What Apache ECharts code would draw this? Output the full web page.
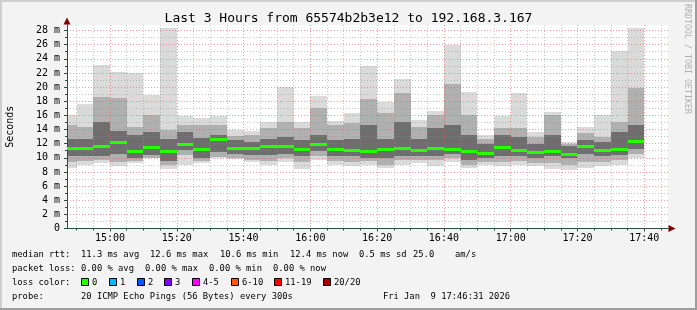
<!DOCTYPE html>
<html><head><meta charset="utf-8">
<script src="https://cdn.jsdelivr.net/npm/echarts@6/dist/echarts.min.js"></script>
<style>html,body{margin:0;padding:0;background:#f3f3f3}#c{width:697px;height:310px}</style>
</head><body><div id="c"></div>
<script>
// ---- data ----
const axisStart = "14:47:07";
const spanMinutes = 180;
const binEnd = ["14:50","14:55","15:00","15:05","15:10","15:15","15:20","15:25","15:30","15:35","15:40","15:45","15:50","15:55","16:00","16:05","16:10","16:15","16:20","16:25","16:30","16:35","16:40","16:45","16:50","16:55","17:00","17:05","17:10","17:15","17:20","17:25","17:30","17:35","17:40"];
const rttMax    = [16.1,17.6,23.1,22.1,22.0,18.9,28.3,15.9,15.6,15.9,13.9,13.8,15.1,20.0,15.0,18.8,15.2,16.3,23.0,17.9,21.1,15.3,16.6,25.9,19.3,13.2,15.9,19.1,13.6,16.5,12.3,14.3,16.0,25.1,28.3];
const rttHi2    = [14.6,14.4,18.6,18.4,14.4,16.0,13.9,14.6,14.6,14.6,13.1,13.2,14.2,15.1,14.2,17.0,14.6,14.9,18.3,16.3,19.1,14.3,16.0,20.4,16.0,12.7,14.2,14.2,13.0,16.0,12.0,13.5,13.0,15.1,19.9];
const rttHi3    = [12.6,12.7,15.0,13.8,13.2,13.7,12.7,13.7,12.8,13.2,12.5,12.3,12.7,13.0,12.5,13.2,12.5,12.7,14.6,12.7,15.1,12.7,14.2,14.6,13.2,12.0,13.2,13.0,11.9,13.2,11.6,12.5,12.3,13.7,14.6];
const rttMedian = [11.4,11.4,11.6,12.3,11.0,11.5,10.9,12.0,11.2,12.6,11.4,11.4,11.7,11.7,11.2,12.0,11.2,11.1,11.0,11.2,11.4,11.1,11.4,11.2,10.9,10.7,11.5,11.1,10.8,11.0,10.6,11.6,11.1,11.3,12.4];
const rttLo3    = [10.3,10.3,10.2,10.6,10.0,10.4,9.5,11.1,10.0,10.8,10.6,10.4,10.4,10.6,10.3,10.9,10.2,10.2,10.0,10.0,10.3,10.2,10.2,10.5,9.7,9.9,10.2,10.2,9.9,10.3,9.9,10.6,10.2,10.4,11.3];
const rttLo2    = [9.4,9.5,9.7,9.4,9.5,10.0,9.0,10.4,9.5,10.1,9.9,9.7,9.5,10.0,9.4,10.2,9.5,9.4,9.5,9.0,9.7,9.7,9.7,10.0,9.0,9.4,9.4,9.5,9.2,9.2,9.0,9.4,9.4,9.7,10.6];
const rttMin    = [8.5,9.0,9.3,8.9,9.3,9.9,8.4,9.0,9.2,9.9,9.8,9.4,9.0,9.4,8.4,9.7,9.0,8.9,9.0,8.5,9.0,9.2,8.9,9.4,8.6,9.0,8.9,9.0,8.8,8.4,8.3,8.5,8.9,9.0,10.0];
const stepMinutes = 5;
const xTicks = ["15:00","15:20","15:40","16:00","16:20","16:40","17:00","17:20","17:40"];
const xMinorTicks = ["14:50","14:55","15:05","15:10","15:15","15:25","15:30","15:35","15:45","15:50","15:55","16:05","16:10","16:15","16:25","16:30","16:35","16:45","16:50","16:55","17:05","17:10","17:15","17:25","17:30","17:35","17:45"];
const yTicks = [0,2,4,6,8,10,12,14,16,18,20,22,24,26,28];
const yMinorTicks = [1,3,5,7,9,11,13,15,17,19,21,23,25,27];
const yTop = 28.78;

const titleText = "Last 3 Hours from 65574b2b3e12 to 192.168.3.167";
const legendRows = [
  [["median rtt:",12],["11.3 ms avg",81],["12.6 ms max",150],["10.6 ms min",220],["12.4 ms now",290],["0.5 ms sd",359],["25.0",413],["am/s",455]],
  [["packet loss:",12],["0.00 % avg",81],["0.00 % max",145],["0.00 % min",209],["0.00 % now",273]],
  [["loss color:",12]],
  [["probe:",12],["20 ICMP Echo Pings (56 Bytes) every 300s",81]]
];
const lossLabels = ["0","1","2","3","4-5","6-10","11-19","20/20"];
const lossColors = ["#26ff00","#00b8ff","#0059ff","#7e00ff","#ff00ff","#ff5a00","#ff0000","#a00000"];
const lossBoxX = [81,109,137,164,192,231,274,323];
const dateText = "Fri Jan  9 17:46:31 2026";

// ---- helpers ----
function toMin(s){ const p=s.split(':').map(Number); return p[0]*60+p[1]+(p[2]||0)/60; }
function fmtHM(v){ const h=Math.floor(v/60+1e-6), m=Math.round(v-h*60); return (h<10?'0':'')+h+':'+(m<10?'0':'')+m; }
const X0 = toMin(axisStart), X1 = X0 + spanMinutes;
const smokeData = binEnd.map((e,i)=>[toMin(e)-stepMinutes, toMin(e), rttMin[i], rttLo2[i], rttLo3[i], rttMedian[i], rttHi3[i], rttHi2[i], rttMax[i]]);
const FONT = 'DejaVu Sans Mono';

function clipR(params, x0, y0, x1, y1){
  const cs = params.coordSys;
  return echarts.graphic.clipRectByRect({x:x0, y:y0, width:x1-x0, height:y1-y0},{x:cs.x, y:cs.y, width:cs.width, height:cs.height});
}
function renderSmoke(params, api){
  const t0=api.value(0), t1=api.value(1);
  const bands=[[2,8,'#dadada'],[3,7,'#b0b0b0'],[4,6,'#6e6e6e']];
  const children=[];
  bands.forEach(b=>{
    const a=api.coord([t0, api.value(b[1])]), c=api.coord([t1, api.value(b[0])]);
    const r=clipR(params, Math.round(a[0]), Math.round(a[1]), Math.round(c[0]), Math.round(c[1]));
    if(r) children.push({type:'rect', shape:r, style:{fill:b[2]}});
  });
  return {type:'group', children};
}
function renderMedian(params, api){
  const t0=api.value(0), t1=api.value(1), m=api.value(5);
  const a=api.coord([t0,m]), c=api.coord([t1,m]);
  const y=Math.round(a[1]);
  const r=clipR(params, Math.round(a[0]), y-1, Math.round(c[0]), y+2);
  return r ? {type:'rect', shape:r, style:{fill:'#26ff00'}} : null;
}

const graphics = [];
graphics.push({type:'rect', shape:{x:0,y:0,width:697,height:2}, style:{fill:'#cfcfcf'}, z:100});
graphics.push({type:'rect', shape:{x:0,y:0,width:2,height:310}, style:{fill:'#cfcfcf'}, z:100});
graphics.push({type:'rect', shape:{x:0,y:308,width:697,height:2}, style:{fill:'#9e9e9e'}, z:100});
graphics.push({type:'rect', shape:{x:695,y:0,width:2,height:310}, style:{fill:'#9e9e9e'}, z:100});
graphics.push({type:'text', x:348.5, y:19, z:100, style:{text:titleText, fontFamily:FONT, fontSize:13, fill:'#000', align:'center', textAlign:'center', verticalAlign:'middle', textVerticalAlign:'middle'}});
graphics.push({type:'text', x:687, y:4, rotation:-Math.PI/2, z:100, style:{text:'RRDTOOL / TOBI OETIKER', fontFamily:FONT, fontSize:8.3, fill:'#b0b0b0', align:'left', textAlign:'left', verticalAlign:'middle', textVerticalAlign:'middle'}});
const rowY = [254.5, 268.5, 282.5, 296.5];
legendRows.forEach((row,ri)=>row.forEach(([t,x])=>{
  graphics.push({type:'text', x:x, y:rowY[ri], z:100, style:{text:t, fontFamily:FONT, fontSize:8.8, fill:'#000', align:'left', textAlign:'left', verticalAlign:'middle', textVerticalAlign:'middle'}});
}));
lossLabels.forEach((l,i)=>{
  graphics.push({type:'rect', shape:{x:lossBoxX[i]+0.5,y:278.5,width:7,height:7}, z:100, style:{fill:lossColors[i], stroke:'#000', lineWidth:1}});
  graphics.push({type:'text', x:lossBoxX[i]+11, y:rowY[2], z:100, style:{text:l, fontFamily:FONT, fontSize:8.8, fill:'#000', align:'left', textAlign:'left', verticalAlign:'middle', textVerticalAlign:'middle'}});
});
graphics.push({type:'text', x:510, y:rowY[3], z:100, style:{text:dateText, fontFamily:FONT, fontSize:8.8, fill:'#000', align:'right', textAlign:'right', verticalAlign:'middle', textVerticalAlign:'middle'}});

const redGrid = {color:'rgba(224,80,80,0.55)', width:1, type:[1,2]};
const grayGrid = {color:'rgba(143,143,143,0.5)', width:1, type:[1,2]};
const axisCol = '#2c4d43', arrowCol = '#7f0000';

const chart = echarts.init(document.getElementById('c'), null, {renderer:'canvas'});
chart.setOption({
  backgroundColor:'#f3f3f3',
  animation:false,
  grid:{left:67, top:25, width:601, height:203.5, show:true, backgroundColor:'#ffffff', borderWidth:0, containLabel:false, outerBoundsMode:'none'},
  xAxis:[
    {type:'value', min:X0, max:X1, position:'bottom', z:3,
     axisLine:{show:true, onZero:false, lineStyle:{color:axisCol, width:1}},
     axisTick:{show:true, customValues:xTicks.map(toMin), length:3, lineStyle:{color:axisCol}},
     axisLabel:{show:true, customValues:xTicks.map(toMin), formatter:fmtHM, fontFamily:FONT, fontSize:10, color:'#000', margin:5},
     splitLine:{show:true, lineStyle:redGrid}, minorTick:{show:false}, minorSplitLine:{show:false}},
    {type:'value', min:X0, max:X1, position:'bottom', z:2,
     axisLine:{show:true, onZero:false, symbol:['none','triangle'], symbolSize:[7,7], symbolOffset:[0,4], lineStyle:{color:arrowCol, width:1}},
     axisTick:{show:true, customValues:xMinorTicks.map(toMin), length:2, lineStyle:{color:axisCol}},
     axisLabel:{show:false},
     splitLine:{show:true, lineStyle:grayGrid}}
  ],
  yAxis:[
    {type:'value', min:0, max:yTop, position:'left', z:3,
     axisLine:{show:true, onZero:false, lineStyle:{color:axisCol, width:1}},
     axisTick:{show:true, customValues:yTicks, length:3, lineStyle:{color:axisCol}},
     axisLabel:{show:true, customValues:yTicks, formatter:v=>v===0?'0':(v+' m'), fontFamily:FONT, fontSize:10, color:'#000', margin:7},
     splitLine:{show:true, lineStyle:redGrid},
     name:'Seconds', nameLocation:'middle', nameGap:52, nameTextStyle:{fontFamily:FONT, fontSize:10, color:'#000'}},
    {type:'value', min:0, max:yTop, position:'left', z:2,
     axisLine:{show:true, onZero:false, symbol:['none','triangle'], symbolSize:[7,7], symbolOffset:[0,4], lineStyle:{color:arrowCol, width:1}},
     axisTick:{show:true, customValues:yMinorTicks, length:2, lineStyle:{color:axisCol}},
     axisLabel:{show:false},
     splitLine:{show:true, lineStyle:grayGrid}}
  ],
  series:[
    {type:'custom', name:'smoke', z:1, silent:true, xAxisIndex:0, yAxisIndex:0, renderItem:renderSmoke, data:smokeData, encode:{x:[0,1], y:[2,3,4,5,6,7,8]}},
    {type:'custom', name:'median', z:4, silent:true, xAxisIndex:0, yAxisIndex:0, renderItem:renderMedian, data:smokeData, encode:{x:[0,1], y:[5]}}
  ],
  graphic:graphics
});
</script></body></html>
